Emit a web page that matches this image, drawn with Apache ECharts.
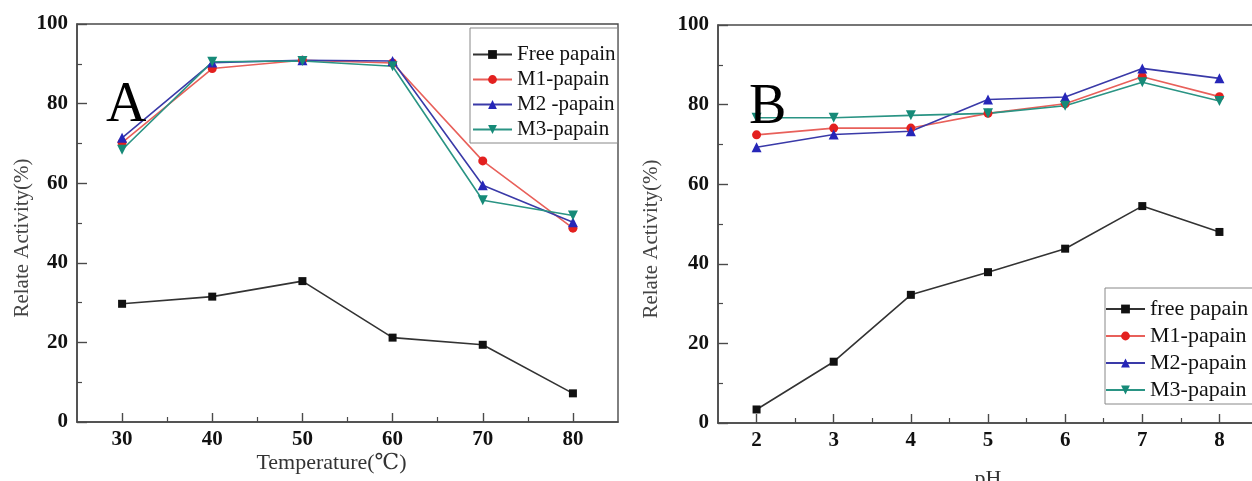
<!DOCTYPE html>
<html>
<head>
<meta charset="utf-8">
<script src="https://cdn.jsdelivr.net/npm/echarts@6/dist/echarts.min.js"></script>
<style>
  html, body { margin: 0; padding: 0; background: #fff; }
  #chart { width: 1252px; height: 481px; }
</style>
</head>
<body>
<div id="chart"></div>
<script>
// panel A: temperature
const temps = [30, 40, 50, 60, 70, 80]
const tempFree = [29.7, 31.5, 35.4, 21.2, 19.4, 7.2]
const tempM1 = [70.2, 88.8, 90.9, 90.2, 65.6, 48.7]
const tempM2 = [71.4, 90.3, 90.9, 90.7, 59.5, 50.2]
const tempM3 = [68.4, 90.5, 90.7, 89.4, 55.7, 51.9]
const tempNames = ['Free papain', 'M1-papain', 'M2 -papain', 'M3-papain']

// panel B: pH
const phs = [2, 3, 4, 5, 6, 7, 8]
const phFree = [3.4, 15.4, 32.2, 37.9, 43.8, 54.5, 48.0]
const phM1 = [72.4, 74.1, 74.1, 77.8, 80.2, 87.0, 82.0]
const phM2 = [69.3, 72.5, 73.3, 81.3, 81.9, 89.1, 86.6]
const phM3 = [76.7, 76.7, 77.3, 77.8, 79.7, 85.6, 80.9]
const phNames = ['free papain', 'M1-papain', 'M2-papain', 'M3-papain']

const tempTicks = [30, 40, 50, 60, 70, 80]
const tempMinor = [35, 45, 55, 65, 75]
const phTicks = [2, 3, 4, 5, 6, 7, 8]
const phMinor = [2.5, 3.5, 4.5, 5.5, 6.5, 7.5]

const FONT = "'Liberation Serif', 'DejaVu Serif', serif"
const AXIS_COLOR = '#4a4a4a'

const styles = [
  { symbol: 'rect', size: 8, color: '#111', line: '#333' },
  { symbol: 'circle', size: 9, color: '#e3201f', line: '#e8605a' },
  { symbol: 'triangle', size: 10, color: '#2626b8', line: '#3a3aa8' },
  { symbol: 'triangle', size: 10, color: '#168a78', line: '#2a9484', rotate: 180 }
]

function pairs (xs, ys) {
  return xs.map((x, i) => [x, ys[i]])
}

function lineSeries (name, data, k, grid) {
  const s = styles[k]
  return {
    type: 'line',
    name,
    xAxisIndex: grid * 2,
    yAxisIndex: grid,
    data,
    symbol: s.symbol,
    symbolSize: s.size,
    symbolRotate: s.rotate || 0,
    itemStyle: { color: s.color },
    lineStyle: { color: s.line, width: 1.6 },
    emphasis: { disabled: true },
    animation: false
  }
}

function mainX (grid, min, max, ticks, name, nameGap, pad) {
  return {
    type: 'value',
    gridIndex: grid,
    position: 'bottom',
    min,
    max,
    name,
    nameLocation: 'middle',
    nameGap,
    nameMoveOverlap: false,
    nameTextStyle: { fontFamily: FONT, fontSize: 22, color: '#333', padding: pad },
    axisLine: { show: true, onZero: false, lineStyle: { color: AXIS_COLOR, width: 1.6 } },
    axisTick: { show: true, inside: true, length: 9, customValues: ticks, lineStyle: { color: AXIS_COLOR, width: 1.4 } },
    axisLabel: { customValues: ticks, margin: 7, fontFamily: FONT, fontSize: 21, fontWeight: 'bold', color: '#111' },
    splitLine: { show: false }
  }
}

// second axis on the same grid only for the short minor ticks
function minorX (grid, min, max, ticks) {
  return {
    type: 'value',
    gridIndex: grid,
    position: 'bottom',
    min,
    max,
    axisLine: { show: false, onZero: false },
    axisTick: { show: true, inside: true, length: 5, customValues: ticks, lineStyle: { color: AXIS_COLOR, width: 1.2 } },
    axisLabel: { show: false },
    splitLine: { show: false }
  }
}

function yAxis (grid, nameGap) {
  return {
    type: 'value',
    gridIndex: grid,
    min: 0,
    max: 100,
    interval: 20,
    name: 'Relate Activity(%)',
    nameLocation: 'middle',
    nameGap,
    nameTextStyle: { fontFamily: FONT, fontSize: 21, color: '#444', padding: [0, 30, 0, 0] },
    axisLine: { show: true, lineStyle: { color: AXIS_COLOR, width: 1.6 } },
    axisTick: { show: true, inside: true, length: 10, lineStyle: { color: AXIS_COLOR, width: 1.4 } },
    minorTick: { show: true, splitNumber: 2, length: 5, lineStyle: { color: AXIS_COLOR, width: 1.2 } },
    axisLabel: { margin: 9, fontFamily: FONT, fontSize: 21, fontWeight: 'bold', color: '#111' },
    splitLine: { show: false }
  }
}

function legend (names, left, top, padding, gap, size) {
  return {
    orient: 'vertical',
    left,
    top,
    data: names,
    itemWidth: 39,
    itemHeight: 11,
    itemGap: gap,
    padding,
    borderColor: '#888',
    borderWidth: 1,
    backgroundColor: '#fff',
    selectedMode: false,
    textStyle: { fontFamily: FONT, fontSize: size, color: '#111' }
  }
}

const chart = echarts.init(document.getElementById('chart'), null, { renderer: 'canvas' })

const tempData = [tempFree, tempM1, tempM2, tempM3]
const phData = [phFree, phM1, phM2, phM3]

const option = {
  backgroundColor: '#fff',
  animation: false,
  title: [
    { text: 'A', left: 106, top: 78, padding: 0, textStyle: { fontFamily: FONT, fontSize: 56, fontWeight: 'normal', color: '#000' } },
    { text: 'B', left: 749, top: 80, padding: 0, textStyle: { fontFamily: FONT, fontSize: 56, fontWeight: 'normal', color: '#000' } }
  ],
  grid: [
    { left: 77, top: 24, width: 541, height: 398, outerBoundsMode: 'none', show: true, borderColor: AXIS_COLOR, borderWidth: 1.4 },
    { left: 718, top: 25, width: 540, height: 398, outerBoundsMode: 'none', show: true, borderColor: AXIS_COLOR, borderWidth: 1.4 }
  ],
  legend: [
    legend(tempNames, 470, 28, [16, 2, 3, 2], 4, 21),
    legend(phNames, 1105, 288, [10, 12, 3, 0], 5, 22)
  ],
  xAxis: [
    mainX(0, 25, 85, tempTicks, 'Temperature(℃)', 30, [0, 32, 0, 0]),
    minorX(0, 25, 85, tempMinor),
    mainX(1, 1.5, 8.5, phTicks, 'pH', 45, [0, 0, 0, 0]),
    minorX(1, 1.5, 8.5, phMinor)
  ],
  yAxis: [yAxis(0, 44), yAxis(1, 56)],
  series: [
    ...tempNames.map((n, k) => lineSeries(n, pairs(temps, tempData[k]), k, 0)),
    ...phNames.map((n, k) => lineSeries(n, pairs(phs, phData[k]), k, 1))
  ]
}

chart.setOption(option)
</script>
</body>
</html>
